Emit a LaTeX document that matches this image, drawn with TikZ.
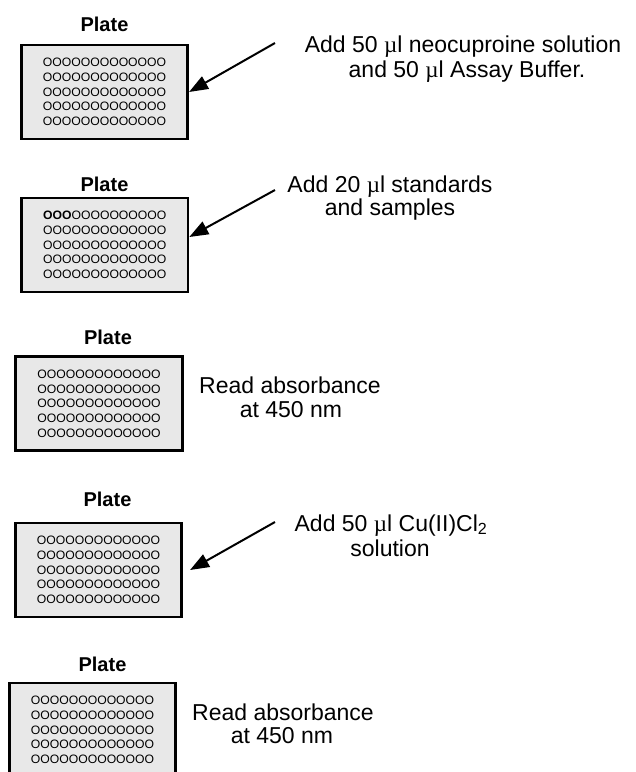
\documentclass[tikz,border=0pt]{standalone}
\usepackage{fontspec}
\setmainfont{Liberation Sans}
\newfontfamily\symfont{Liberation Serif}
\usetikzlibrary{arrows.meta}
\definecolor{platefill}{RGB}{232,232,232}
\newcommand\wellrow{OOOOOOOOOOOOO}
\newcommand\wellrows{\wellrow\\\wellrow\\\wellrow\\\wellrow\\\wellrow}
\newcommand\mul{{\symfont µ}l}
\begin{document}
\begin{tikzpicture}[x=1pt,y=-1pt,
  plate/.style={draw, line width=2.6pt, fill=platefill, minimum width=166.5pt,
    minimum height=94pt, inner sep=0pt, align=center,
    font=\fontsize{12.2}{14.7}\selectfont},
  platelabel/.style={anchor=base, inner sep=0pt, font=\fontsize{20}{24}\selectfont\bfseries},
  stxt/.style={anchor=base, inner sep=0pt, font=\fontsize{23}{27}\selectfont},
  pointer/.style={line width=2pt, -{Triangle[length=19pt,width=14pt]}}
]
\clip (0,0) rectangle (636,772);

% plates
\node[plate] (p1) at (104.5,92) {\wellrows};
\node[plate] (p2) at (104.75,245) {\textbf{OOO}OOOOOOOOOO\\\wellrow\\\wellrow\\\wellrow\\\wellrow};
\node[plate] (p3) at (99,403.5) {\wellrows};
\node[plate] (p4) at (98.5,570) {\wellrows};
\node[plate] (p5) at (92.5,730) {\wellrows};

% plate labels
\node[platelabel] (l1) at (104.5,31) {Plate};
\node[platelabel] (l2) at (104.5,191) {Plate};
\node[platelabel] (l3) at (108,344) {Plate};
\node[platelabel] (l4) at (107.5,506) {Plate};
\node[platelabel] (l5) at (102.5,671) {Plate};

% step texts
\node[stxt] (t1a) at (463,52) {Add 50 \mul{} neocuproine solution};
\node[stxt] (t1b) at (467,77) {and 50 \mul{} Assay Buffer.};
\node[stxt] (t2a) at (390,192) {Add 20 \mul{} standards};
\node[stxt] (t2b) at (390,215) {and samples};
\node[stxt] (t3a) at (290,393) {Read absorbance};
\node[stxt] (t3b) at (291,417) {at 450 nm};
\node[stxt] (t4a) at (391,531) {Add 50 \mul{} Cu(II)Cl\textsubscript{2}};
\node[stxt] (t4b) at (390,556) {solution};
\node[stxt] (t5a) at (283,720) {Read absorbance};
\node[stxt] (t5b) at (282,743) {at 450 nm};

% arrows
\coordinate (a1) at (275,43);
\coordinate (a2) at (275,190);
\coordinate (a4) at (275,522);
\draw[pointer] (a1) -- (p1.east);
\draw[pointer] (a2) -- ([yshift=8pt]p2.east);
\draw[pointer] (a4) -- ([xshift=7pt]p4.east);
\end{tikzpicture}
\end{document}
